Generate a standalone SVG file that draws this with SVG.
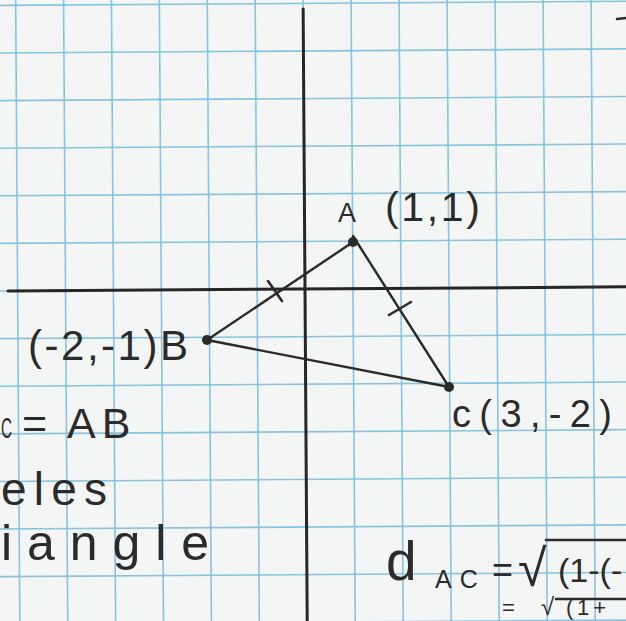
<svg xmlns="http://www.w3.org/2000/svg" width="626" height="621" viewBox="0 0 626 621">
<defs>
<style>
.paper{fill:#f4f6f6}
.grid line{stroke:#86c3e3;stroke-width:1.6}
.axis{stroke:#262626;stroke-width:3;stroke-linecap:round}
.side{stroke:#2a2a2a;stroke-width:2.4;stroke-linecap:round;fill:none}
.tick{stroke:#2a2a2a;stroke-width:2.6;stroke-linecap:round}
.dot{fill:#2a2a2a}
.hand{font-family:"Liberation Sans","DejaVu Sans",sans-serif;fill:#2b2b2b}
.pen{stroke:#2b2b2b;stroke-width:2.6;fill:none;stroke-linecap:round;stroke-linejoin:round}
</style>
</defs>
<rect class="paper" x="0" y="0" width="626" height="621"/>
<g id="paper-grid" transform="rotate(-0.38 305 289)">
<g class="grid">
<line x1="17.6" y1="-20" x2="17.6" y2="650"/>
<line x1="65.5" y1="-20" x2="65.5" y2="650"/>
<line x1="113.4" y1="-20" x2="113.4" y2="650"/>
<line x1="161.3" y1="-20" x2="161.3" y2="650"/>
<line x1="209.2" y1="-20" x2="209.2" y2="650"/>
<line x1="257.1" y1="-20" x2="257.1" y2="650"/>
<line x1="305" y1="-20" x2="305" y2="650"/>
<line x1="353" y1="-20" x2="353" y2="650"/>
<line x1="401" y1="-20" x2="401" y2="650"/>
<line x1="449" y1="-20" x2="449" y2="650"/>
<line x1="497" y1="-20" x2="497" y2="650"/>
<line x1="545" y1="-20" x2="545" y2="650"/>
<line x1="593" y1="-20" x2="593" y2="650"/>
<line x1="-20" y1="3.4" x2="650" y2="3.4"/>
<line x1="-20" y1="51" x2="650" y2="51"/>
<line x1="-20" y1="98.6" x2="650" y2="98.6"/>
<line x1="-20" y1="146.2" x2="650" y2="146.2"/>
<line x1="-20" y1="193.8" x2="650" y2="193.8"/>
<line x1="-20" y1="241.4" x2="650" y2="241.4"/>
<line x1="-20" y1="289" x2="650" y2="289"/>
<line x1="-20" y1="336.6" x2="650" y2="336.6"/>
<line x1="-20" y1="384.2" x2="650" y2="384.2"/>
<line x1="-20" y1="431.8" x2="650" y2="431.8"/>
<line x1="-20" y1="479.4" x2="650" y2="479.4"/>
<line x1="-20" y1="527" x2="650" y2="527"/>
<line x1="-20" y1="574.6" x2="650" y2="574.6"/>
<line x1="-20" y1="622.2" x2="650" y2="622.2"/>
</g>
<line class="axis" x1="305" y1="9" x2="305" y2="650"/>
<line class="axis" x1="8" y1="289" x2="650" y2="289"/>
</g>
<g id="connectors">
<line class="side" x1="207" y1="340" x2="353" y2="242"/>
<line class="side" x1="353" y1="236" x2="449" y2="387"/>
<line class="side" x1="207" y1="340" x2="449" y2="387"/>
<line class="tick" x1="268" y1="281" x2="282" y2="301"/>
<line class="tick" x1="389" y1="315" x2="411" y2="302"/>
</g>
<g id="node-A">
<circle class="dot" cx="353" cy="242" r="5"/>
<text class="hand" x="338" y="222"><tspan font-size="27">A</tspan><tspan x="385" y="221" font-size="41" textLength="95" lengthAdjust="spacing">(1,1)</tspan></text>
</g>
<g id="node-B">
<circle class="dot" cx="207" cy="340" r="5"/>
<text class="hand" x="28" y="360" font-size="42" textLength="160" lengthAdjust="spacing">(-2,-1)B</text>
</g>
<g id="node-C">
<circle class="dot" cx="449" cy="387" r="5"/>
<text class="hand" x="452" y="427" font-size="38" textLength="160" lengthAdjust="spacing">c(3,-2)</text>
</g>
<g id="notes">
<text class="hand" y="438" font-size="43"><tspan x="1" font-size="30" textLength="11" lengthAdjust="spacingAndGlyphs">C</tspan><tspan x="22">=</tspan><tspan x="67" letter-spacing="6">AB</tspan></text>
<text class="hand" x="1" y="505" font-size="46" textLength="106" lengthAdjust="spacing">eles</text>
<text class="hand" x="1" y="560" font-size="50" textLength="208" lengthAdjust="spacing">iangle</text>
<text class="hand" y="580"><tspan x="386" font-size="55">d</tspan><tspan x="435" y="588" font-size="25" letter-spacing="8">AC</tspan><tspan x="492" y="582" font-size="36">=</tspan><tspan x="518" y="586" font-size="52">√</tspan><tspan x="558" y="582" font-size="34">(1-(-</tspan></text>
<line class="pen" x1="546" y1="540" x2="630" y2="540"/>
<text class="hand" y="615"><tspan x="502" font-size="22">=</tspan><tspan x="541" font-size="24">√</tspan><tspan x="566" font-size="22" textLength="40" lengthAdjust="spacing">(1+</tspan></text>
<line class="pen" x1="556" y1="599" x2="630" y2="599"/>
<line class="pen" x1="617" y1="19" x2="626" y2="18"/>
</g>
</svg>
